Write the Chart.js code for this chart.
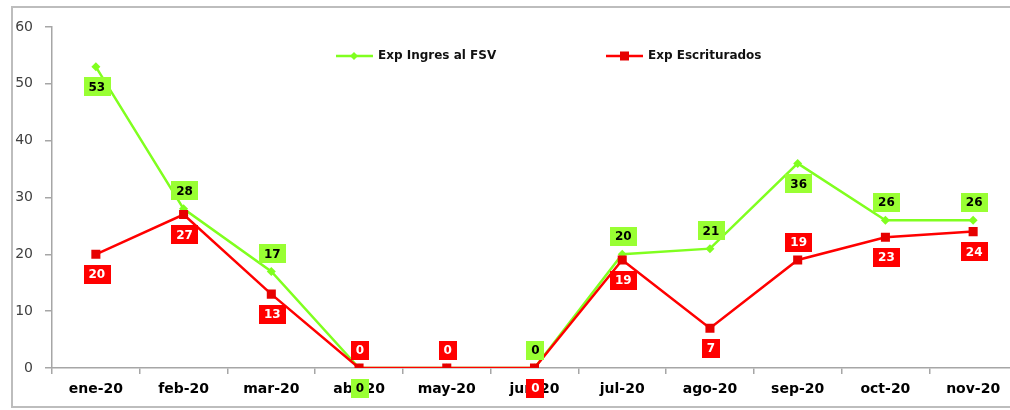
<!DOCTYPE html>
<html>
<head>
<meta charset="utf-8">
<script src="https://cdn.jsdelivr.net/npm/chart.js@4.4.0/dist/chart.umd.min.js"></script>
<style>
  html, body { margin: 0; padding: 0; background: #fff; overflow: hidden; width: 1010px; height: 410px; }
  #frame { position: absolute; left: 11px; top: 6px; width: 1040px; height: 402px; border: 2px solid #bdbdbd; box-sizing: border-box; }
  #wrap { position: absolute; left: 0; top: 0; width: 1030px; height: 410px; }
</style>
</head>
<body>
<div id="frame"></div>
<div id="wrap"><canvas id="chart"></canvas></div>
<script>
// categories and series
var months = ["ene-20", "feb-20", "mar-20", "abr-20", "may-20", "jun-20", "jul-20", "ago-20", "sep-20", "oct-20", "nov-20"];
var ingresValues = [53, 28, 17, 0, 0, 0, 20, 21, 36, 26, 26];
var escrituradosValues = [20, 27, 13, 0, 0, 0, 19, 7, 19, 23, 24];
var yMin = 0;
var yMax = 60;
var yStep = 10;

// where each value box sits relative to its point
var ingresLabelSide = ["below", "above", "above", "below", "above", "above", "above", "above", "below", "above", "above"];
var escrituradosLabelSide = ["below", "below", "below", "above", "above", "below", "below", "below", "above", "below", "below"];

var greenLine = "#80ff1f";
var greenBox = "#99ff33";
var redLine = "#ff0000";
var redBox = "#ff0000";

var boxLabels = {
  id: "boxLabels",
  afterDatasetsDraw: function (chart) {
    var ctx = chart.ctx;
    var sets = [
      { index: 0, side: ingresLabelSide, fill: greenBox, text: "#000" },
      { index: 1, side: escrituradosLabelSide, fill: redBox, text: "#fff" },
    ];
    ctx.save();
    ctx.font = "bold 12px 'DejaVu Sans'";
    ctx.textAlign = "center";
    ctx.textBaseline = "middle";
    sets.forEach(function (s) {
      var meta = chart.getDatasetMeta(s.index);
      var values = chart.data.datasets[s.index].data;
      meta.data.forEach(function (pt, i) {
        var txt = String(values[i]);
        var cx = pt.x + 1;
        var cy = s.side[i] == "above" ? pt.y - 18 : pt.y + 20;
        var w = ctx.measureText(txt).width + 10;
        var h = 19;
        ctx.fillStyle = s.fill;
        ctx.fillRect(Math.round(cx - w / 2), Math.round(cy - h / 2), Math.round(w), h);
        ctx.fillStyle = s.text;
        ctx.fillText(txt, cx, cy + 1);
      });
    });
    ctx.restore();
  },
};

var lineLegend = {
  id: "lineLegend",
  afterDraw: function (chart) {
    var ctx = chart.ctx;
    var y = 56;
    ctx.save();
    ctx.lineWidth = 2.5;
    // green entry
    ctx.strokeStyle = greenLine;
    ctx.beginPath();
    ctx.moveTo(336, y);
    ctx.lineTo(373, y);
    ctx.stroke();
    ctx.fillStyle = greenLine;
    ctx.beginPath();
    ctx.moveTo(354, y - 4);
    ctx.lineTo(358, y);
    ctx.lineTo(354, y + 4);
    ctx.lineTo(350, y);
    ctx.closePath();
    ctx.fill();
    // red entry
    ctx.strokeStyle = redLine;
    ctx.beginPath();
    ctx.moveTo(606, y);
    ctx.lineTo(643, y);
    ctx.stroke();
    ctx.fillStyle = "#e60000";
    ctx.fillRect(620, y - 4.5, 9, 9);
    ctx.fillStyle = "#111";
    ctx.font = "bold 12px 'DejaVu Sans'";
    ctx.textBaseline = "middle";
    ctx.fillText(chart.data.datasets[0].label, 378, y);
    ctx.fillText(chart.data.datasets[1].label, 648, y);
    ctx.restore();
  },
};

var ctx = document.getElementById("chart");
new Chart(ctx, {
  type: "line",
  data: {
    labels: months,
    datasets: [
      {
        label: "Exp Ingres al FSV",
        data: ingresValues,
        borderColor: greenLine,
        backgroundColor: greenLine,
        borderWidth: 2.5,
        pointStyle: "rectRot",
        pointRadius: 4.5,
        pointBorderWidth: 0,
        tension: 0,
        order: 2,
      },
      {
        label: "Exp Escriturados",
        data: escrituradosValues,
        borderColor: redLine,
        backgroundColor: "#e60000",
        borderWidth: 2.5,
        pointStyle: "rect",
        pointRadius: 6.4,
        pointBorderWidth: 0,
        tension: 0,
        order: 1,
      },
    ],
  },
  options: {
    responsive: true,
    maintainAspectRatio: false,
    animation: false,
    layout: { padding: { top: 27, right: 13, left: 0, bottom: 0 } },
    plugins: {
      legend: { display: false },
      tooltip: { enabled: false },
    },
    scales: {
      x: {
        offset: true,
        grid: {
          offset: true,
          drawOnChartArea: false,
          drawTicks: true,
          tickLength: 6,
          color: "#a6a6a6",
          lineWidth: 1.5,
        },
        border: { color: "#a6a6a6", width: 1.5 },
        ticks: {
          color: "#000",
          padding: 7,
          font: { family: "DejaVu Sans", size: 14, weight: "bold" },
          maxRotation: 0,
          autoSkip: false,
        },
        afterFit: function (scale) {
          scale.height = 42;
        },
      },
      y: {
        min: yMin,
        max: yMax,
        grid: {
          drawOnChartArea: false,
          drawTicks: true,
          tickLength: 7,
          color: "#a6a6a6",
          lineWidth: 1.5,
        },
        border: { color: "#a6a6a6", width: 1.5 },
        ticks: {
          stepSize: yStep,
          color: "#404040",
          padding: 12,
          font: { family: "DejaVu Sans", size: 14 },
        },
        afterFit: function (scale) {
          scale.width = 52;
        },
      },
    },
  },
  plugins: [boxLabels, lineLegend],
});
</script>
</body>
</html>
